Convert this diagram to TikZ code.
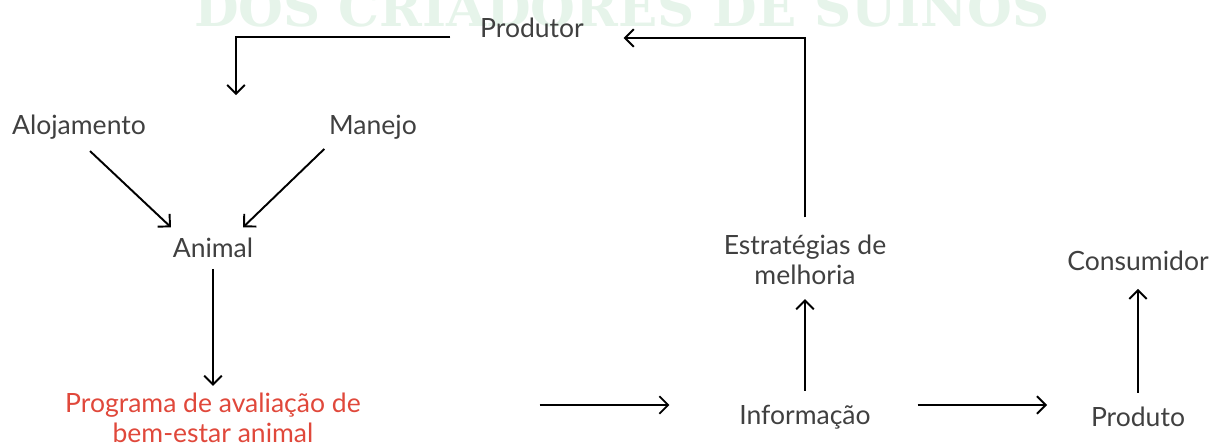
\documentclass[tikz,border=0pt]{standalone}
\usepackage{fontspec}
\setmainfont{Lato}
\newfontfamily\markfont{DejaVu Serif}
\usetikzlibrary{arrows.meta}
\definecolor{txtgray}{HTML}{404040}
\definecolor{progred}{HTML}{E0483B}
\definecolor{markgreen}{HTML}{E6F4EA}

\begin{document}
\begin{tikzpicture}[x=0.02cm, y=-0.02cm,
  txt/.style={text=txtgray, font=\fontsize{15.1}{17}\selectfont, align=center, inner sep=2pt},
  wmark/.style={text=markgreen, font=\markfont\bfseries\fontsize{29.3}{30}\selectfont, inner sep=0pt},
  arr/.style={line width=1.1pt, -{Straight Barb[length=5pt, width=10pt]}}]
\useasboundingbox (0,0) rectangle (1211,443);
\node[wmark, anchor=base] (wm) at (622,26) {DOS CRIADORES DE SUINOS};
\node[txt] (prod) at (532,28) {Produtor};
\node[txt] (aloj) at (79,127) {Alojamento};
\node[txt] (man) at (373,127) {Manejo};
\node[txt] (anim) at (213,248) {Animal};
\node[txt, text=progred] (prog) at (213,418) {Programa de avaliação de\\bem-estar animal};
\node[txt] (estr) at (805,260) {Estratégias de\\melhoria};
\node[txt] (cons) at (1138,261) {Consumidor};
\node[txt] (info) at (805,417) {Informação};
\node[txt] (prodt) at (1138,417) {Produto};
\coordinate (drop) at (236,95);
% connectors
\draw[arr] ([shift={(-26,9)}]prod.west) -| (drop);
\draw[arr] ([yshift=8pt]estr.north) |- ([shift={(36,10)}]prod.east);
\draw[arr] ([shift={(11,8)}]aloj.south) -- ([shift={(2,-7)}]anim.north west);
\draw[arr] ([shift={(-1,6)}]man.south west) -- ([shift={(-14,-7)}]anim.north east);
\draw[arr] ([yshift=-4pt]anim.south) -- ([yshift=2pt]prog.north);
\draw[arr] ([shift={(175,-13)}]prog.east) -- ([shift={(-66,-12)}]info.west);
\draw[arr] ([shift={(43,-12)}]info.east) -- ([shift={(-40,-12)}]prodt.west);
\draw[arr] ([yshift=6pt]info.north) -- ([yshift=-6pt]estr.south);
\draw[arr] ([yshift=6pt]prodt.north) -- ([yshift=-8pt]cons.south);
\end{tikzpicture}
\end{document}
